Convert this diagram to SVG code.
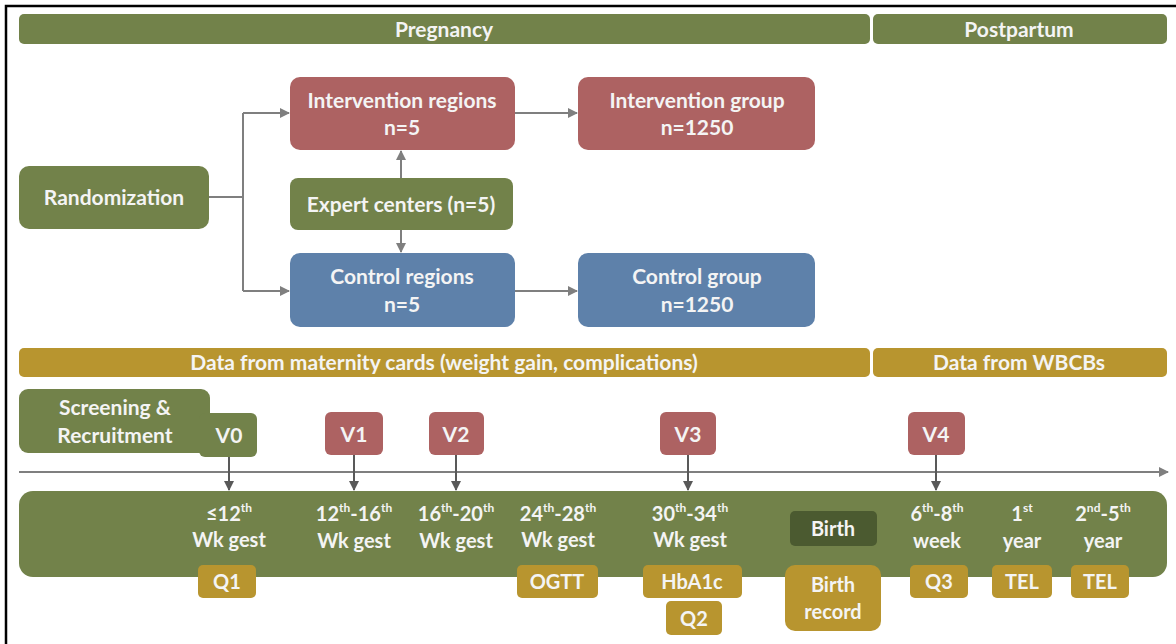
<svg xmlns="http://www.w3.org/2000/svg" width="1176" height="644" viewBox="0 0 1176 644">
<style>
.g{fill:#72824a}.r{fill:#ad6262}.b{fill:#5e81aa}.y{fill:#b8952f}.d{fill:#4b5a30}
text{font-family:Lato,"Liberation Sans",sans-serif;font-weight:bold;fill:#f4f4f4;text-anchor:middle;dominant-baseline:middle;font-size:21px;transform:translateY(1.5px)}
.t{font-size:20px}
.s{font-size:12px}
.c{stroke:#7f7f7f;stroke-width:2;fill:none}
.k{stroke:#595959;stroke-width:2;fill:none}
</style>
<defs>
<marker id="a" viewBox="0 0 10 10" refX="9" refY="5" markerWidth="5" markerHeight="5" orient="auto"><path d="M0,0L10,5L0,10z" fill="#7f7f7f"/></marker>
<marker id="ak" viewBox="0 0 10 10" refX="9" refY="5" markerWidth="5" markerHeight="5" orient="auto"><path d="M0,0L10,5L0,10z" fill="#595959"/></marker>
</defs>
<rect width="1176" height="644" fill="#fff"/>
<path d="M6,644V6H1176" stroke="#000" stroke-width="2.5" fill="none"/>

<g id="pregnancy"><rect class="g" x="19" y="14" width="851" height="30" rx="5"/><text x="444" y="30">Pregnancy</text></g>
<g id="postpartum"><rect class="g" x="873" y="14" width="294" height="30" rx="5"/><text x="1019" y="30">Postpartum</text></g>

<g id="randomization"><rect class="g" x="19" y="166" width="190" height="63" rx="10"/><text x="114" y="198">Randomization</text></g>
<g id="intervention-regions"><rect class="r" x="290" y="77" width="225" height="73" rx="10"/><text x="402" y="101">Intervention regions</text><text x="402" y="128">n=5</text></g>
<g id="intervention-group"><rect class="r" x="578" y="77" width="237" height="73" rx="10"/><text x="697" y="101">Intervention group</text><text x="697" y="128">n=1250</text></g>
<g id="expert-centers"><rect class="g" x="290" y="178" width="223" height="52" rx="8"/><text x="401" y="205">Expert centers (n=5)</text></g>
<g id="control-regions"><rect class="b" x="290" y="253" width="225" height="74" rx="10"/><text x="402" y="277">Control regions</text><text x="402" y="305">n=5</text></g>
<g id="control-group"><rect class="b" x="578" y="253" width="237" height="74" rx="10"/><text x="697" y="277">Control group</text><text x="697" y="305">n=1250</text></g>

<g id="maternity-data"><rect class="y" x="19" y="348" width="851" height="29" rx="5"/><text x="444" y="363">Data from maternity cards (weight gain, complications)</text></g>
<g id="wbcb-data"><rect class="y" x="873" y="348" width="294" height="29" rx="5"/><text x="1019" y="363">Data from WBCBs</text></g>

<g id="screening"><rect class="g" x="19" y="389" width="191" height="64" rx="9"/><rect class="g" x="199" y="413" width="58" height="44" rx="6"/><text x="115" y="408">Screening &amp;</text><text x="115" y="436">Recruitment</text><text x="229" y="436">V0</text></g>
<g id="v1"><rect class="r" x="325" y="412" width="58" height="43" rx="6"/><text x="354" y="435">V1</text></g>
<g id="v2"><rect class="r" x="429" y="412" width="55" height="43" rx="6"/><text x="456" y="435">V2</text></g>
<g id="v3"><rect class="r" x="660" y="412" width="56" height="43" rx="6"/><text x="688" y="435">V3</text></g>
<g id="v4"><rect class="r" x="908" y="412" width="57" height="43" rx="6"/><text x="936" y="435">V4</text></g>

<g id="timeline-band"><rect class="g" x="19" y="491" width="1148" height="86" rx="14"/>
<text class="t" x="229" y="514">≤12<tspan class="s" dy="-7">th</tspan></text><text class="t" x="229" y="540">Wk gest</text>
<text class="t" x="354" y="514">12<tspan class="s" dy="-7">th</tspan><tspan dy="7">-16</tspan><tspan class="s" dy="-7">th</tspan></text><text class="t" x="354" y="541">Wk gest</text>
<text class="t" x="456" y="514">16<tspan class="s" dy="-7">th</tspan><tspan dy="7">-20</tspan><tspan class="s" dy="-7">th</tspan></text><text class="t" x="456" y="541">Wk gest</text>
<text class="t" x="558" y="514">24<tspan class="s" dy="-7">th</tspan><tspan dy="7">-28</tspan><tspan class="s" dy="-7">th</tspan></text><text class="t" x="558" y="540">Wk gest</text>
<text class="t" x="690" y="514">30<tspan class="s" dy="-7">th</tspan><tspan dy="7">-34</tspan><tspan class="s" dy="-7">th</tspan></text><text class="t" x="690" y="540">Wk gest</text>
<text class="t" x="937" y="514">6<tspan class="s" dy="-7">th</tspan><tspan dy="7">-8</tspan><tspan class="s" dy="-7">th</tspan></text><text class="t" x="937" y="541">week</text>
<text class="t" x="1022" y="514">1<tspan class="s" dy="-7">st</tspan></text><text class="t" x="1022" y="541">year</text>
<text class="t" x="1103" y="514">2<tspan class="s" dy="-7">nd</tspan><tspan dy="7">-5</tspan><tspan class="s" dy="-7">th</tspan></text><text class="t" x="1103" y="541">year</text>
</g>
<g id="birth"><rect class="d" x="790" y="511" width="87" height="35" rx="5"/><text class="t" x="833" y="529">Birth</text></g>

<g id="q1"><rect class="y" x="198" y="565" width="58" height="33" rx="5"/><text class="t" x="227" y="582">Q1</text></g>
<g id="ogtt"><rect class="y" x="517" y="565" width="81" height="33" rx="5"/><text class="t" x="557" y="582">OGTT</text></g>
<g id="hba1c"><rect class="y" x="643" y="565" width="99" height="33" rx="5"/><text class="t" x="692" y="582">HbA1c</text></g>
<g id="q2"><rect class="y" x="666" y="601" width="56" height="34" rx="5"/><text class="t" x="694" y="619">Q2</text></g>
<g id="birth-record"><rect class="y" x="785" y="565" width="96" height="66" rx="10"/><text class="t" x="833" y="585">Birth</text><text class="t" x="833" y="612">record</text></g>
<g id="q3"><rect class="y" x="910" y="565" width="58" height="33" rx="5"/><text class="t" x="939" y="582">Q3</text></g>
<g id="tel1"><rect class="y" x="992" y="565" width="60" height="33" rx="5"/><text class="t" x="1022" y="582">TEL</text></g>
<g id="tel2"><rect class="y" x="1071" y="565" width="58" height="33" rx="5"/><text class="t" x="1100" y="582">TEL</text></g>

<g id="connectors">
<path class="c" d="M209,197H243"/>
<path class="c" d="M243,113V291"/>
<path class="c" d="M243,113H289" marker-end="url(#a)"/>
<path class="c" d="M243,291H289" marker-end="url(#a)"/>
<path class="c" d="M515,113H577" marker-end="url(#a)"/>
<path class="c" d="M515,291H577" marker-end="url(#a)"/>
<path class="c" d="M401,178V151" marker-end="url(#a)"/>
<path class="c" d="M401,230V252" marker-end="url(#a)"/>
<path class="c" d="M19,472H1168" marker-end="url(#a)"/>
<path class="k" d="M229,457V490" marker-end="url(#ak)"/>
<path class="k" d="M354,455V490" marker-end="url(#ak)"/>
<path class="k" d="M456,455V490" marker-end="url(#ak)"/>
<path class="k" d="M688,455V490" marker-end="url(#ak)"/>
<path class="k" d="M936,455V490" marker-end="url(#ak)"/>
</g>
</svg>
